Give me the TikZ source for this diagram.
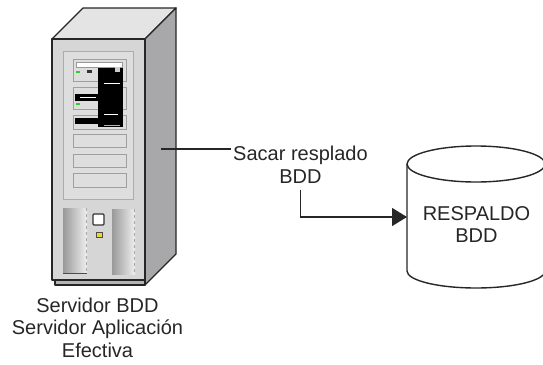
\documentclass[tikz,border=0pt]{standalone}
\usepackage{fontspec}
\setmainfont{Liberation Sans}
\usetikzlibrary{arrows.meta, positioning, calc}

\definecolor{topgray}{HTML}{E4E4E4}
\definecolor{sidegray}{HTML}{A8A8AA}
\definecolor{frontgray}{HTML}{D6D6D6}
\definecolor{panelgray}{HTML}{DEDEDE}
\definecolor{plinthgray}{HTML}{B4B4B4}
\definecolor{ledgreen}{HTML}{33CC33}

\begin{document}
\begin{tikzpicture}[x=1pt, y=-1pt, >={Triangle[length=15pt,width=18pt]},
    label/.style={font=\fontsize{20}{22.8}\selectfont, align=center, inner sep=2pt, text=black!85},
    case/.style={draw=black!85, line width=1.4pt, line join=round},
    bay/.style={draw=gray!75, fill=panelgray, line width=0.8pt},
    vent/.style={left color=gray!80, right color=gray!12},
    link/.style={draw=black!85, line width=1.3pt}]
      \useasboundingbox (0,0) rectangle (543,364);

      % Server cabinet
      \draw[case, fill=topgray] (52,39) -- (83,8) -- (176,8) -- (145,39) -- cycle;
      \draw[case, fill=sidegray] (145,39) -- (176,8) -- (176,254) -- (145,285) -- cycle;
      \draw[case, fill=plinthgray] (55,278) rectangle (145,285);
      \draw[case, fill=frontgray] (52,39) rectangle (145,280);

      % Front panel and drive bays
      \draw[draw=gray!65, fill=panelgray, line width=0.8pt] (63,51) rectangle (133,199);
      \foreach \ya/\yb in {59/81, 87/109, 115/129, 134/147, 154/167, 173/187}
        \draw[bay] (73,\ya) rectangle (126,\yb);

      % Drive details
      \draw[fill=white, draw=gray!80, line width=0.8pt] (76,62) rectangle (122,67);
      \fill[ledgreen] (76,71) rectangle (80,72.5);
      \fill[ledgreen] (76,103) rectangle (80,104.5);
      \fill[black!80] (87,69.5) rectangle (92,73);
      \fill[black] (98,68) rectangle (123,127);
      \fill[black] (75,94) rectangle (98,101);
      \fill[black] (75,118) rectangle (98,124);
      \fill[gray!40] (115,67) rectangle (120,72);
      \draw[white, line width=0.8pt] (80,97.5) -- (96,97.5);
      \draw[white, line width=0.8pt] (104,83) -- (120,83);
      \draw[white, line width=0.8pt] (104,114) -- (118,114);
      \draw[gray!60, line width=0.8pt] (104,125) -- (120,125);

      % Vents, power button and LED
      \shade[vent] (63,208) rectangle (87,273);
      \shade[vent] (112,209) rectangle (135,274);
      \draw[black!70, line width=0.8pt] (63,273) -- (87,273);
      \draw[gray!70, dashed, line width=0.8pt] (86.5,208) -- (86.5,273);
      \draw[gray!70, dashed, line width=0.8pt] (134.5,209) -- (134.5,274);
      \draw[fill=white, draw=black!80, line width=1.1pt, rounded corners=1pt] (93,214) rectangle (104,225);
      \draw[fill=yellow!90!black, draw=black!70, line width=0.8pt] (96,232) rectangle (102,237);
      \coordinate (srvside) at (161,149);

      % Backup cylinder
      \draw[case, fill=white] (407,164) -- (407,271)
        arc[start angle=180, end angle=360, x radius=69pt, y radius=17pt] -- (545,164);
      \draw[case] (476,164) ellipse[x radius=69pt, y radius=18pt];
      \coordinate (cylin) at (407,217);

      % Labels
      \node[label, anchor=north] (srvname) at (97.5,295.5) {Servidor BDD\\Servidor Aplicación\\Efectiva};
      \node[label, anchor=north] (sacar) at (300.5,144) {Sacar resplado\\BDD};
      \node[label, anchor=north] (respaldo) at (476.5,204) {RESPALDO\\BDD};

      % Connectors
      \draw[link] (srvside) -- (srvside -| sacar.west);
      \draw[link, ->] ([yshift=-4pt]sacar.south) |- (cylin);
\end{tikzpicture}
\end{document}
